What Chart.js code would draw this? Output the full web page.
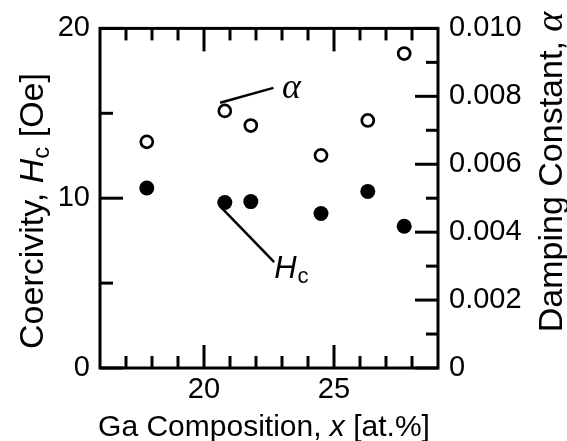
<!DOCTYPE html>
<html>
<head>
<meta charset="utf-8">
<script src="https://cdn.jsdelivr.net/npm/chart.js@4.4.0/dist/chart.umd.min.js"></script>
<style>
    html, body { margin: 0; padding: 0; background: #ffffff; }
    #contenedor { width: 567px; height: 441px; }
</style>
</head>
<body>
<div id="contenedor"><canvas id="grafico-chart" width="567" height="441"></canvas></div>
<script>

// datos
const composicionGa = [17.8, 20.8, 21.8, 24.5, 26.3, 27.7];
const coercividad = [10.6, 9.75, 9.8, 9.1, 10.4, 8.35];
const amortiguacion = [0.00666, 0.00757, 0.00714, 0.00626, 0.00729, 0.00926];

// marcas de los ejes
const xMayores = [20, 25];
const xMenores = [17, 18, 19, 21, 22, 23, 24, 26, 27, 28];
const hcMayores = [0, 10, 20];
const hcMenores = [5, 15];
const alfaMayores = [0, 0.002, 0.004, 0.006, 0.008, 0.010];
const alfaMenores = [0.001, 0.003, 0.005, 0.007, 0.009];

// lineas de referencia de las etiquetas (en unidades de datos)
const lineaAlfaX = [20.62, 22.67];
const lineaAlfaY = [0.00781, 0.00825];
const lineaHcX = [20.66, 22.70];
const lineaHcY = [9.46, 6.23];
const etiquetaAlfa = [23.0, 0.00822];
const etiquetaHc = [22.70, 5.28];

const fuente = '"Liberation Sans", Arial, sans-serif';
const fuenteSerif = '"Liberation Serif", "Times New Roman", serif';


function dibujarTramos(ctx, tramos, x, y, girar) {
    // tramos: [texto, font, desplazamiento de linea base]
    ctx.save();
    ctx.translate(x, y);
    if (girar) ctx.rotate(-Math.PI / 2);
    let total = 0;
    tramos.forEach(t => { ctx.font = t[1]; total += ctx.measureText(t[0]).width; });
    let pos = -total / 2;
    ctx.textBaseline = 'alphabetic';
    ctx.textAlign = 'left';
    ctx.fillStyle = '#000';
    tramos.forEach(t => {
        ctx.font = t[1];
        ctx.fillText(t[0], pos, t[2] || 0);
        pos += ctx.measureText(t[0]).width;
    });
    ctx.restore();
}


const marcoPlugin = {
    id: 'marco',
    afterDraw(chart) {
        const ctx = chart.ctx;
        const area = chart.chartArea;
        const sx = chart.scales.x;
        const sy = chart.scales.y;
        const sa = chart.scales.y2;

        ctx.save();
        ctx.strokeStyle = '#000';
        ctx.lineWidth = 3;
        ctx.lineCap = 'butt';

        // marco
        ctx.strokeRect(area.left, area.top, area.right - area.left, area.bottom - area.top);

        const linea = (x1, y1, x2, y2) => {
            ctx.beginPath();
            ctx.moveTo(x1, y1);
            ctx.lineTo(x2, y2);
            ctx.stroke();
        };

        // marcas hacia dentro
        xMayores.forEach(v => {
            const px = sx.getPixelForValue(v);
            linea(px, area.bottom, px, area.bottom - 23);
            linea(px, area.top, px, area.top + 23);
        });
        xMenores.forEach(v => {
            const px = sx.getPixelForValue(v);
            linea(px, area.bottom, px, area.bottom - 12);
            linea(px, area.top, px, area.top + 12);
        });
        hcMayores.forEach(v => {
            const py = sy.getPixelForValue(v);
            linea(area.left, py, area.left + 23, py);
        });
        hcMenores.forEach(v => {
            const py = sy.getPixelForValue(v);
            linea(area.left, py, area.left + 13, py);
        });
        alfaMayores.forEach(v => {
            const py = sa.getPixelForValue(v);
            linea(area.right, py, area.right - 23, py);
        });
        alfaMenores.forEach(v => {
            const py = sa.getPixelForValue(v);
            linea(area.right, py, area.right - 12, py);
        });

        // lineas de las etiquetas
        ctx.lineWidth = 2.5;
        linea(sx.getPixelForValue(lineaAlfaX[0]), sa.getPixelForValue(lineaAlfaY[0]),
              sx.getPixelForValue(lineaAlfaX[1]), sa.getPixelForValue(lineaAlfaY[1]));
        linea(sx.getPixelForValue(lineaHcX[0]), sy.getPixelForValue(lineaHcY[0]),
              sx.getPixelForValue(lineaHcX[1]), sy.getPixelForValue(lineaHcY[1]));
        ctx.restore();

        // texto de las etiquetas
        ctx.save();
        ctx.fillStyle = '#000';
        ctx.textAlign = 'left';
        ctx.textBaseline = 'middle';
        ctx.font = 'italic 36px ' + fuenteSerif;
        ctx.fillText('α', sx.getPixelForValue(etiquetaAlfa[0]), sa.getPixelForValue(etiquetaAlfa[1]));
        ctx.textBaseline = 'alphabetic';
        const hx = sx.getPixelForValue(etiquetaHc[0]);
        const hy = sy.getPixelForValue(etiquetaHc[1]);
        ctx.font = 'italic 31px ' + fuente;
        ctx.fillText('H', hx, hy);
        const ancho = ctx.measureText('H').width;
        ctx.font = '22px ' + fuente;
        ctx.fillText('c', hx + ancho + 1, hy + 5);
        ctx.restore();

        // titulos de los ejes
        dibujarTramos(ctx, [
            ['Ga Composition, ', '30px ' + fuente],
            ['x', 'italic 30px ' + fuente],
            [' [at.%]', '30px ' + fuente]
        ], 264, 436, false);

        dibujarTramos(ctx, [
            ['Coercivity, ', '34px ' + fuente],
            ['H', 'italic 34px ' + fuente],
            ['c', '24px ' + fuente, 6],
            [' [Oe]', '34px ' + fuente]
        ], 43, 211, true);

        dibujarTramos(ctx, [
            ['Damping Constant, ', '34px ' + fuente],
            ['α', 'italic 38px ' + fuenteSerif]
        ], 562, 172, true);
    }
};


const fuenteTicks = { family: fuente, size: 29 };

const chart = new Chart(document.getElementById('grafico-chart').getContext('2d'), {
    type: 'scatter',
    data: {
        datasets: [
            {
                label: 'Hc',
                data: composicionGa.map((x, i) => ({ x: x, y: coercividad[i] })),
                yAxisID: 'y',
                pointRadius: 7.5,
                pointBackgroundColor: '#000000',
                pointBorderColor: '#000000',
                pointBorderWidth: 0
            },
            {
                label: 'alpha',
                data: composicionGa.map((x, i) => ({ x: x, y: amortiguacion[i] })),
                yAxisID: 'y2',
                pointRadius: 6,
                pointBackgroundColor: '#ffffff',
                pointBorderColor: '#000000',
                pointBorderWidth: 2.7
            }
        ]
    },
    options: {
        responsive: false,
        animation: false,
        layout: { padding: { top: 27, left: 0, right: 0, bottom: 0 } },
        plugins: {
            legend: { display: false },
            tooltip: { enabled: false }
        },
        scales: {
            x: {
                type: 'linear',
                min: 16,
                max: 29,
                grid: { display: false, drawTicks: false, tickLength: 0 },
                border: { display: false },
                ticks: { font: fuenteTicks, color: '#000', padding: 5, autoSkip: false, maxRotation: 0 },
                afterBuildTicks: s => { s.ticks = xMayores.map(v => ({ value: v })); },
                afterFit: s => { s.height = 73; }
            },
            y: {
                type: 'linear',
                position: 'left',
                min: 0,
                max: 20,
                grid: { display: false, drawTicks: false, tickLength: 0 },
                border: { display: false },
                ticks: { font: fuenteTicks, color: '#000', padding: 10, autoSkip: false },
                afterBuildTicks: s => { s.ticks = hcMayores.map(v => ({ value: v })); },
                afterFit: s => { s.width = 100; }
            },
            y2: {
                type: 'linear',
                position: 'right',
                min: 0,
                max: 0.01,
                grid: { display: false, drawTicks: false, tickLength: 0 },
                border: { display: false },
                ticks: {
                    font: fuenteTicks,
                    color: '#000',
                    padding: 11,
                    autoSkip: false,
                    callback: function(value) {
                        return value === 0 ? '0' : value.toFixed(3);
                    }
                },
                afterBuildTicks: s => { s.ticks = alfaMayores.map(v => ({ value: v })); },
                afterFit: s => { s.width = 129; }
            }
        }
    },
    plugins: [marcoPlugin]
});
</script>
</body>
</html>
